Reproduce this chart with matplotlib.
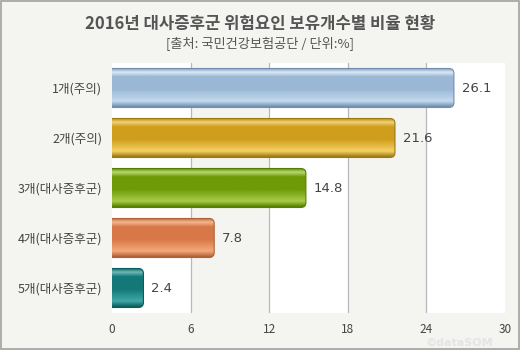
import numpy as np
import matplotlib.pyplot as plt
from matplotlib.colors import LinearSegmentedColormap
from matplotlib.patches import Rectangle, FancyBboxPatch

plt.rcParams['font.family'] = ['Noto Sans CJK KR', 'DejaVu Sans']

# --- データ ---
categories = ['1개(주의)', '2개(주의)', '3개(대사증후군)', '4개(대사증후군)', '5개(대사증후군)']
values = [26.1, 21.6, 14.8, 7.8, 2.4]
xticks = [0, 6, 12, 18, 24, 30]

# 各棒の色 (上端, ハイライト, 中間, 下側, 縁)
bar_colors = [
    ['#7f9dbd', '#dce9f6', '#9ab8d6', '#c4daee', '#6f8fb0'],
    ['#b38a10', '#f3d27a', '#cf9e1c', '#f6d064', '#9c7a10'],
    ['#5d8a00', '#b8d870', '#6f9a08', '#a8cc48', '#557f00'],
    ['#c06840', '#f4b890', '#d87848', '#f4a878', '#b06038'],
    ['#0c6464', '#70b8b8', '#147878', '#40a8a8', '#0c5c5c'],
]

bg = '#f4f4f1'
fig = plt.figure(figsize=(5.2, 3.5), dpi=100, facecolor=bg)
ax = fig.add_axes([112 / 520, 1 - 313 / 350, 393 / 520, 250 / 350])
ax.set_facecolor('white')

# 交互の背景帯
for i in range(len(xticks) - 1):
    if i % 2 == 1:
        ax.axvspan(xticks[i], xticks[i + 1], color=bg, zorder=0, lw=0)
for xt in xticks[1:-1]:
    ax.axvline(xt, color='#b8b8b8', lw=0.9, zorder=1)

y = np.arange(len(categories))
h = 0.78
# 棒の位置は barh で決め、見た目は角丸パッチ + グラデーションで描く
bars = ax.barh(y, values, height=h, alpha=0, zorder=2)

# 角丸の大きさ (x単位) と縦横比
px_x = 393 / 30
px_y = 250 / 5
rad = 5 / px_x
asp = px_x / px_y

grad = np.linspace(0, 1, 100).reshape(-1, 1)
for b, c, v, yi in zip(bars, bar_colors, values, y):
    x0, y0 = b.get_x(), b.get_y()
    w, hh = b.get_width(), b.get_height()
    patch = FancyBboxPatch((x0 - 1, y0), w + 1, hh,
                           boxstyle=f'round,pad=0,rounding_size={rad}',
                           mutation_aspect=asp, facecolor=c[2], edgecolor=c[4],
                           lw=0.8, zorder=3)
    ax.add_patch(patch)
    cmap = LinearSegmentedColormap.from_list(
        'g', [(0, c[0]), (0.1, c[1]), (0.22, c[2]), (0.55, c[2]), (0.85, c[3]), (1, c[4])])
    im = ax.imshow(grad, cmap=cmap, aspect='auto', zorder=2.5,
                   extent=[0, v, y0 + hh, y0], origin='upper')
    im.set_clip_path(patch)
    patch.set_facecolor('none')
    ax.text(v + 0.6, yi, f'{v}', va='center', ha='left', fontsize=9.5,
            color='#444444', family='DejaVu Sans')

ax.set_xlim(0, 30)
ax.set_ylim(len(categories) - 0.5, -0.5)
ax.set_yticks(y)
ax.set_yticklabels(categories, fontsize=9, color='#444444')
ax.set_xticks(xticks)
ax.set_xticklabels([str(t) for t in xticks], fontsize=8.5, color='#444444')
ax.tick_params(length=0, pad=7)
for s in ax.spines.values():
    s.set_visible(False)

fig.text(0.5, 1 - 24 / 350, '2016년 대사증후군 위험요인 보유개수별 비율 현황',
         ha='center', va='center', fontsize=12, fontweight='bold', color='#555555')
fig.text(0.5, 1 - 44 / 350, '[출처: 국민건강보험공단 / 단위:%]',
         ha='center', va='center', fontsize=9.5, color='#555555')
fig.text(493 / 520, 0.006, '©dataSOM', ha='right', va='bottom', fontsize=8,
         fontweight='bold', color='#e4e4e4', family='DejaVu Sans')

fig.patches.append(Rectangle((0.001, 0.002), 0.997, 0.995, transform=fig.transFigure,
                             fill=False, edgecolor='#a0a0a0', lw=1.2))

fig.savefig('out.png', dpi=100, facecolor=bg)
